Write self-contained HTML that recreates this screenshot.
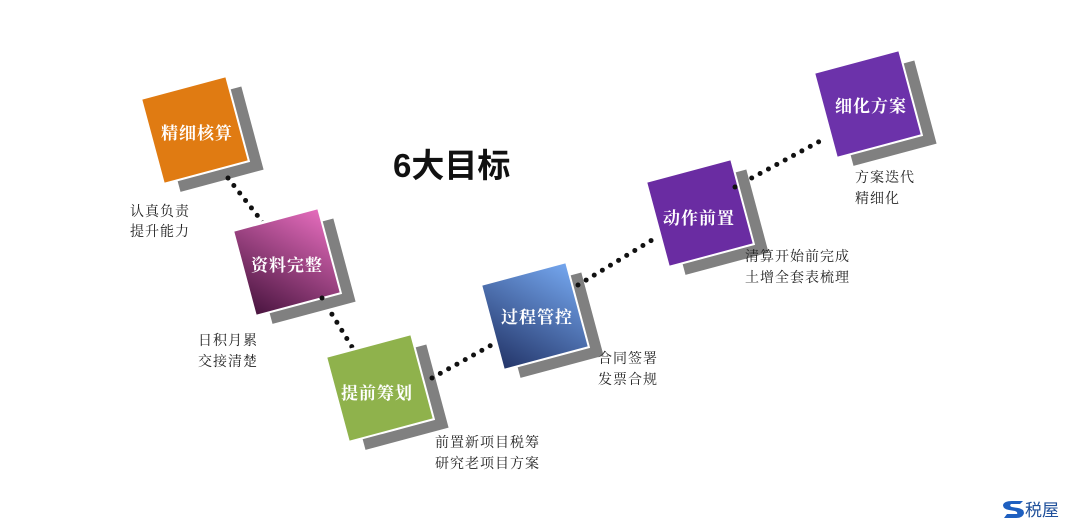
<!DOCTYPE html>
<html><head><meta charset="utf-8"><style>
html,body{margin:0;padding:0;background:#fff;}
svg{display:block;}
.l{font-family:"Liberation Serif","Noto Serif CJK SC",serif;font-size:14px;fill:#222;letter-spacing:1px;}
.b{font-family:"Liberation Sans","Noto Serif CJK SC",serif;font-size:17px;font-weight:bold;fill:#fff;text-anchor:middle;letter-spacing:1px;}
</style></head><body>
<svg width="1080" height="525" viewBox="0 0 1080 525">
<defs>
<linearGradient id="g2" x1="0" y1="1" x2="1" y2="0"><stop offset="0" stop-color="#4a1540"/><stop offset="1" stop-color="#e46cbc"/></linearGradient>
<linearGradient id="g4" x1="0" y1="1" x2="1" y2="0"><stop offset="0" stop-color="#24366a"/><stop offset="1" stop-color="#74a6ee"/></linearGradient>
<g id="sh"><rect x="-30" y="-30" width="86" height="86" fill="#808080"/><rect x="-46" y="-46" width="91" height="91" fill="#fff"/></g>
</defs>
<g stroke="#111" stroke-width="5" stroke-linecap="round" stroke-dasharray="0 9.5" fill="none">
<line x1="228" y1="178" x2="264" y2="224"/>
<line x1="322" y1="298" x2="360" y2="360"/>
<line x1="432" y1="378" x2="497" y2="342"/>
<line x1="578" y1="285" x2="652" y2="240"/>
<line x1="735" y1="187" x2="824" y2="139"/>
</g>
<g transform="translate(195,130) rotate(-15)"><use href="#sh"/><rect x="-43" y="-43" width="86" height="86" fill="#e07b12"/></g>
<g transform="translate(287,262) rotate(-15)"><use href="#sh"/><rect x="-43" y="-43" width="86" height="86" fill="url(#g2)"/></g>
<g transform="translate(380,388) rotate(-15)"><use href="#sh"/><rect x="-43" y="-43" width="86" height="86" fill="#8fb24c"/></g>
<g transform="translate(535,316) rotate(-15)"><use href="#sh"/><rect x="-43" y="-43" width="86" height="86" fill="url(#g4)"/></g>
<g transform="translate(700,213) rotate(-15)"><use href="#sh"/><rect x="-43" y="-43" width="86" height="86" fill="#6a2ca2"/></g>
<g transform="translate(868,104) rotate(-15)"><use href="#sh"/><rect x="-43" y="-43" width="86" height="86" fill="#6c32aa"/></g>
<g fill="#111">
<circle cx="228" cy="178" r="2.5"/><circle cx="322" cy="298" r="2.5"/>
<circle cx="432" cy="378" r="2.5"/><circle cx="578" cy="285" r="2.5"/>
<circle cx="735" cy="187" r="2.5"/>
</g>
<text class="b" x="197" y="139">精细核算</text>
<text class="b" x="287" y="271">资料完整</text>
<text class="b" x="377" y="399">提前筹划</text>
<text class="b" x="537" y="323">过程管控</text>
<text class="b" x="699" y="224">动作前置</text>
<text class="b" x="871" y="112">细化方案</text>
<text x="393" y="177" style="font-family:'Liberation Sans','Noto Sans CJK SC',sans-serif;font-size:33px;font-weight:bold;fill:#111">6大目标</text>
<text class="l" x="130" y="216">认真负责</text><text class="l" x="130" y="236">提升能力</text>
<text class="l" x="198" y="345">日积月累</text><text class="l" x="198" y="366">交接清楚</text>
<text class="l" x="435" y="447">前置新项目税筹</text><text class="l" x="435" y="468">研究老项目方案</text>
<text class="l" x="598" y="363">合同签署</text><text class="l" x="598" y="384">发票合规</text>
<text class="l" x="745" y="261">清算开始前完成</text><text class="l" x="745" y="282">土增全套表梳理</text>
<text class="l" x="855" y="182">方案迭代</text><text class="l" x="855" y="203">精细化</text>
<path d="M1012 501 q-8 0 -9 4 q0 4 6 5 l6 1 q3 1 2 3 l-10 0 l-3 4 l12 0 q7 0 8 -5 q0 -4 -6 -5 l-6 -1 q-3 -1 -1 -3 l9 0 l3 -3z" fill="#1e5fc0"/>
<text x="1025" y="516" style="font-family:'Liberation Sans','Noto Sans CJK SC',sans-serif;font-size:17px;fill:#1e4f9a">税屋</text>
</svg>
</body></html>
